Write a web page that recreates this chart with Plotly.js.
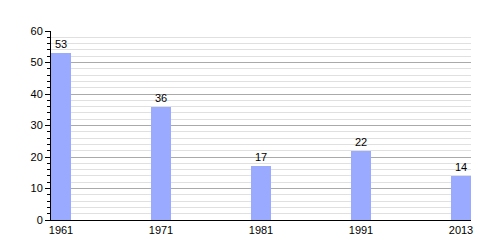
<!DOCTYPE html>
<html>
<head>
<meta charset="utf-8">
<script src="https://cdn.plot.ly/plotly-3.0.1.min.js"></script>
<style>html,body{margin:0;padding:0;background:#fff;}</style>
</head>
<body>
<div id="chart" style="width:500px;height:250px;"></div>
<script>
var years = ["1961", "1971", "1981", "1991", "2013"];
var values = [53, 36, 17, 22, 14];

var trace = {
  type: "bar",
  x: years,
  y: values,
  width: 0.2,
  marker: {color: "#99aaff", line: {width: 0}},
  text: values.map(String),
  textposition: "outside",
  cliponaxis: false,
  textfont: {family: "Liberation Sans, Arial, sans-serif", size: 11, color: "#000"},
  hoverinfo: "none"
};

var layout = {
  width: 500, height: 250,
  margin: {l: 51, r: 29, t: 31, b: 30},
  paper_bgcolor: "#fff", plot_bgcolor: "#fff",
  showlegend: false,
  font: {family: "Liberation Sans, Arial, sans-serif", size: 11, color: "#000"},
  xaxis: {
    type: "category",
    range: [-0.1, 4.1],
    showgrid: false,
    showline: true, linecolor: "#000", linewidth: 1,
    ticks: "", tickfont: {size: 11},
    fixedrange: true
  },
  yaxis: {
    range: [0, 60],
    dtick: 10, tick0: 0,
    showgrid: true, gridcolor: "#aaaaaa", gridwidth: 1,
    showline: true, linecolor: "#000", linewidth: 1,
    ticks: "outside", ticklen: 5, tickcolor: "#000",
    tickfont: {size: 11},
    zeroline: false,
    minor: {dtick: 2, showgrid: true, gridcolor: "#e0e0e0", gridwidth: 1, ticks: "outside", ticklen: 3, tickcolor: "#000"},
    fixedrange: true
  },
  bargap: 0
};

Plotly.newPlot("chart", [trace], layout, {staticPlot: true, displayModeBar: false});
</script>
</body>
</html>
